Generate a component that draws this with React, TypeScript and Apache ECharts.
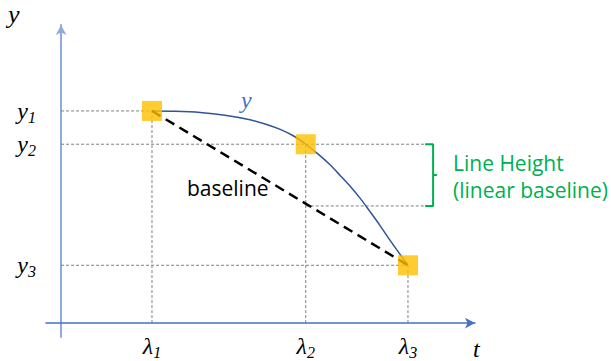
import React, { useEffect, useRef } from "react";
import * as echarts from "echarts";

// Knot positions (t) and levels (y)
const knotT = [2.17, 5.84, 8.28];
const knotY = [7.01, 5.91, 1.91];
const subscripts = ["1", "2", "3"];
// Smooth curve y(t)
const curveT = [2.17, 2.72, 3.32, 3.91, 4.51, 4.87, 5.23, 5.54, 5.84, 6.13, 6.42, 6.66, 6.9, 7.14, 7.37, 7.61, 7.85, 8.07, 8.28];
const curveY = [7.01, 7.0, 6.96, 6.87, 6.72, 6.58, 6.4, 6.19, 5.91, 5.59, 5.23, 4.88, 4.52, 4.12, 3.69, 3.23, 2.74, 2.31, 1.91];
// Linear baseline value at lambda2 and bracket geometry (data units)
const baselineAtL2 = 3.87;
const bracketT = [8.69, 8.88, 8.97];

const serif = '"Liberation Serif", "Times New Roman", serif';
const sans = '"Open Sans", "Noto Sans", sans-serif';

const rich = {
  v: { fontFamily: serif, fontStyle: "italic", fontSize: 24, color: "#000" },
  s: { fontFamily: serif, fontStyle: "italic", fontSize: 16, color: "#000", padding: [13, 0, 0, 0] },
};

export default function App() {
  const ref = useRef<HTMLDivElement>(null);
  useEffect(() => {
    if (!ref.current) return;
    const chart = echarts.init(ref.current, null, { renderer: "svg" });
    const dotted = { color: "#7f7f7f", width: 1, type: [3, 2] as number[] };
    const guide = (pts: number[][]) => ({
      type: "line",
      data: pts,
      symbol: "none",
      silent: true,
      lineStyle: dotted,
      z: 1,
    });
    const guides: any[] = [];
    guides.push(guide([[0, knotY[0]], [knotT[0], knotY[0]]]));
    guides.push(guide([[0, knotY[1]], [bracketT[0], knotY[1]]]));
    guides.push(guide([[0, knotY[2]], [knotT[2], knotY[2]]]));
    guides.push(guide([[knotT[1], baselineAtL2], [bracketT[0], baselineAtL2]]));
    knotT.forEach((t, i) => guides.push(guide([[t, 0], [t, knotY[i]]])));
    const mid = (knotY[1] + baselineAtL2) / 2;

    chart.setOption({
      animation: false,
      grid: { left: 46, right: 136, top: 25, bottom: 24, outerBoundsMode: "none", containLabel: false },
      xAxis: {
        type: "value",
        min: -0.36,
        max: 9.88,
        splitLine: { show: false },
        axisTick: { show: false },
        axisLine: {
          onZero: true,
          symbol: ["none", "arrow"],
          symbolSize: [8, 10],
          lineStyle: { color: "#4472c4", width: 1.5 },
        },
        axisLabel: {
          customValues: knotT,
          margin: -6,
          formatter: (v: number) => {
            const i = knotT.indexOf(v);
            return i < 0 ? "" : "{v|λ}{s|" + subscripts[i] + "}";
          },
          rich,
        },
      },
      yAxis: {
        type: "value",
        min: -0.46,
        max: 9.85,
        splitLine: { show: false },
        axisTick: { show: false },
        axisLine: {
          onZero: true,
          symbol: ["none", "arrow"],
          symbolSize: [8, 10],
          lineStyle: { color: "#8faadc", width: 2 },
        },
        axisLabel: {
          customValues: knotY,
          margin: 10,
          formatter: (v: number) => {
            const i = knotY.indexOf(v);
            return i < 0 ? "" : "{v|y}{s|" + subscripts[i] + "}";
          },
          rich,
        },
      },
      graphic: [
        { type: "text", x: 8, y: 14, style: { text: "y", font: `italic 26px ${serif}`, fill: "#000", verticalAlign: "middle" } },
        { type: "text", x: 473, y: 361, style: { text: "t", font: `italic 24px ${serif}`, fill: "#000", verticalAlign: "bottom" } },
        { type: "text", x: 241, y: 100, style: { text: "y", font: `italic 24px ${serif}`, fill: "#4472c4", verticalAlign: "middle" } },
        { type: "text", x: 187, y: 188, style: { text: "baseline", font: `21px ${sans}`, fill: "#000", verticalAlign: "middle" } },
        { type: "text", x: 453, y: 163, style: { text: "Line Height", font: `21px ${sans}`, fill: "#00b050", verticalAlign: "middle" } },
        { type: "text", x: 453, y: 190, style: { text: "(linear baseline)", font: `21px ${sans}`, fill: "#00b050", verticalAlign: "middle" } },
      ],
      series: [
        ...guides,
        {
          type: "line",
          data: [
            [bracketT[0], knotY[1]],
            [bracketT[1], knotY[1]],
            [bracketT[1], mid],
            [bracketT[2], mid],
            [bracketT[1], mid],
            [bracketT[1], baselineAtL2],
            [bracketT[0], baselineAtL2],
          ],
          symbol: "none",
          silent: true,
          lineStyle: { color: "#00b050", width: 2 },
          z: 2,
        },
        {
          type: "line",
          data: curveT.map((t, i) => [t, curveY[i]]),
          smooth: 0.3,
          symbol: "none",
          silent: true,
          lineStyle: { color: "#2f5597", width: 1.5 },
          z: 3,
        },
        {
          type: "line",
          data: [
            [knotT[0], knotY[0]],
            [knotT[2], knotY[2]],
          ],
          symbol: "none",
          silent: true,
          lineStyle: { color: "#000", width: 2.5, type: [10, 6] },
          z: 4,
        },
        {
          type: "scatter",
          data: knotT.map((t, i) => [t, knotY[i]]),
          symbol: "rect",
          symbolSize: 20,
          itemStyle: { color: "#ffc000" },
          silent: true,
          z: 5,
        },
      ],
    });
    return () => chart.dispose();
  }, []);
  return (
    <div
      ref={ref}
      style={{ position: "absolute", left: 0, top: 0, width: 611, height: 361, background: "#fff" }}
    />
  );
}
